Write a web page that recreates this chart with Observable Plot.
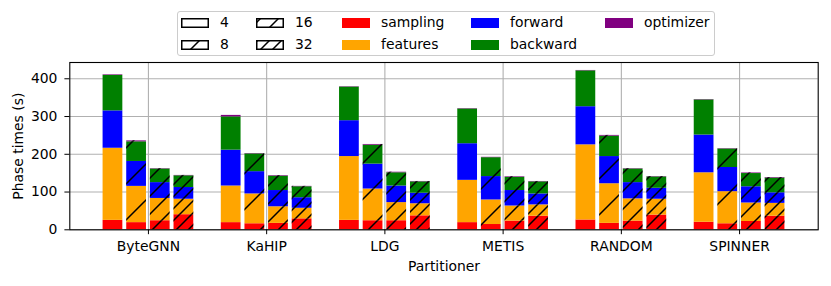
<!DOCTYPE html>
<html><head><meta charset="utf-8">
<script src="https://cdn.jsdelivr.net/npm/d3@7"></script>
<script src="https://cdn.jsdelivr.net/npm/@observablehq/plot@0.6"></script>
<style>
body{margin:0;background:#fff;font-family:"DejaVu Sans",sans-serif;}
#wrap{position:relative;width:831px;height:286px;overflow:hidden;}
#legend{position:relative;width:831px;height:58px;}
.lg-box{position:absolute;left:177px;top:11px;width:536px;height:43px;border:1px solid #cccccc;border-radius:3px;background:#fff;}
.lg-patch{position:absolute;width:28px;height:10px;}
.lg-label{position:absolute;font-size:13.9px;line-height:17px;color:#000;white-space:nowrap;}
#chart svg{display:block;}
</style>
</head><body>
<div id="wrap">
  <svg id="defs" width="0" height="0" style="position:absolute"></svg>
  <div id="legend"><div class="lg-box"></div></div>
  <div id="chart"></div>
</div>
<script>
// ---------- data ----------
const partitioners = ["ByteGNN", "KaHIP", "LDG", "METIS", "RANDOM", "SPINNER"];
const sizes = [4, 8, 16, 32];
const phases = ["sampling", "features", "forward", "backward", "optimizer"];
const phaseColors = ["red", "orange", "blue", "green", "purple"];
const yTicks = [0, 100, 200, 300, 400];
// one row per partitioner, values for sizes 4, 8, 16, 32
const sampling  = [[25, 19, 24, 40], [19, 16, 17, 29], [25, 24, 24, 37], [19, 14, 23, 36], [26, 17, 23, 39], [20, 16, 22, 36]];
const features  = [[191, 96, 59, 41], [97, 79, 44, 28], [169, 84, 48, 32], [112, 65, 40, 30], [199, 105, 59, 42], [131, 85, 49, 34]];
const forward   = [[99, 66, 42, 31], [95, 59, 43, 28], [95, 66, 44, 28], [97, 62, 41, 29], [101, 72, 43, 29], [100, 64, 43, 28]];
const backward  = [[94, 52, 36, 31], [88, 47, 38, 29], [89, 50, 35, 30], [92, 50, 35, 32], [95, 54, 36, 30], [93, 49, 35, 39]];
const optimizer = [[1.5, 2.5, 1, 1], [4, 1, 1.5, 1], [1, 2, 1.5, 1], [1, 1, 1.5, 1], [1, 2, 1, 1], [1, 1, 1.5, 1.5]];

// ---------- styling / layout ----------
const phaseValues = {sampling, features, forward, backward, optimizer};
const hatchSpacing = {8: 36, 16: 18, 32: 12};
const legendHatchOffset = {8: -17, 16: 5, 32: 2};
const step = 0.2, barW = 0.167;

// pattern defs (shared)
const defs = document.getElementById("defs");
let pat = "<defs>";
for (const s of [8, 16, 32]) {
  const P = hatchSpacing[s];
  const path = `<path d="M-2,2 L2,-2 M0,${P} L${P},0 M${P-2},${P+2} L${P+2},${P-2}" stroke="black" stroke-width="1.5" fill="none"/>`;
  pat += `<pattern id="h${s}" patternUnits="userSpaceOnUse" width="${P}" height="${P}">${path}</pattern>`;
  pat += `<pattern id="lh${s}" patternUnits="userSpaceOnUse" x="${legendHatchOffset[s]}" y="0" width="${P}" height="${P}">${path}</pattern>`;
}
pat += "</defs>";
defs.innerHTML = pat;

// ---------- legend ----------
const legend = document.getElementById("legend");
const colX = [181, 256, 342, 471, 605];
const rowY = [23, 44.5];
const entries = [
  ...sizes.map(s => ({label: String(s), s})),
  ...phases.map((p, k) => ({label: p, color: phaseColors[k]}))
];
entries.forEach((e, k) => {
  const col = Math.floor(k / 2), row = k % 2;
  const sv = document.createElementNS("http://www.w3.org/2000/svg", "svg");
  sv.setAttribute("class", "lg-patch");
  sv.setAttribute("width", 28); sv.setAttribute("height", 10);
  sv.style.left = colX[col] + "px";
  sv.style.top = (rowY[row] - 5) + "px";
  if (e.color) {
    sv.innerHTML = `<rect x="0" y="0" width="28" height="10" fill="${e.color}"/>`;
  } else {
    sv.innerHTML = `<rect x="0.75" y="0.75" width="26.5" height="8.5" fill="white"/>` +
      (e.s !== 4 ? `<rect x="0" y="0" width="28" height="10" fill="url(#lh${e.s})"/>` : "") +
      `<rect x="0.75" y="0.75" width="26.5" height="8.5" fill="none" stroke="black" stroke-width="1.5"/>`;
  }
  legend.appendChild(sv);
  const lab = document.createElement("div");
  lab.className = "lg-label";
  lab.textContent = e.label;
  lab.style.left = (colX[col] + 39) + "px";
  lab.style.top = (rowY[row] - 9) + "px";
  legend.appendChild(lab);
});

// ---------- table for marks ----------
const rows = [];
partitioners.forEach((p, i) => sizes.forEach((s, j) => {
  let acc = 0;
  phases.forEach(ph => {
    const v = phaseValues[ph][i][j];
    const c = i + (j - 1.5) * step;
    rows.push({partitioner: p, size: s, phase: ph, x1: c - barW / 2, x2: c + barW / 2, y1: acc, y2: acc + v});
    acc += v;
  });
}));

const chart = Plot.plot({
  width: 831,
  height: 228,
  marginTop: 4,
  marginBottom: 56.7,
  marginLeft: 69.3,
  marginRight: 13.3,
  style: {fontFamily: "DejaVu Sans", fontSize: "13.9px", background: "white", color: "black", overflow: "visible"},
  x: {domain: [-0.665, 5.665]},
  y: {domain: [0, 443.1]},
  color: {domain: phases, range: phaseColors},
  marks: [
    Plot.gridY(yTicks, {stroke: "#b0b0b0", strokeOpacity: 1, strokeWidth: 1.1}),
    Plot.gridX(d3.range(partitioners.length), {stroke: "#b0b0b0", strokeOpacity: 1, strokeWidth: 1.1}),
    Plot.rect(rows, {x1: "x1", x2: "x2", y1: "y1", y2: "y2", fill: "phase"}),
    ...[8, 16, 32].map(s => Plot.rect(rows.filter(d => d.size === s), {x1: "x1", x2: "x2", y1: "y1", y2: "y2", fill: `url(#h${s})`})),
    Plot.frame({stroke: "black", strokeWidth: 1.1}),
    Plot.axisY({ticks: yTicks, tickSize: 4.9, tickPadding: 7.5, label: null}),
    Plot.axisX({ticks: d3.range(partitioners.length), tickFormat: i => partitioners[i], tickSize: 4.9, tickPadding: 6.5, label: null}),
    Plot.text(["Phase times (s)"], {frameAnchor: "left", dx: -51, rotate: -90, textAnchor: "middle", lineAnchor: "middle"}),
    Plot.text(["Partitioner"], {frameAnchor: "bottom", dy: 37, textAnchor: "middle", lineAnchor: "middle"})
  ]
});
document.getElementById("chart").appendChild(chart);
</script>
</body></html>
